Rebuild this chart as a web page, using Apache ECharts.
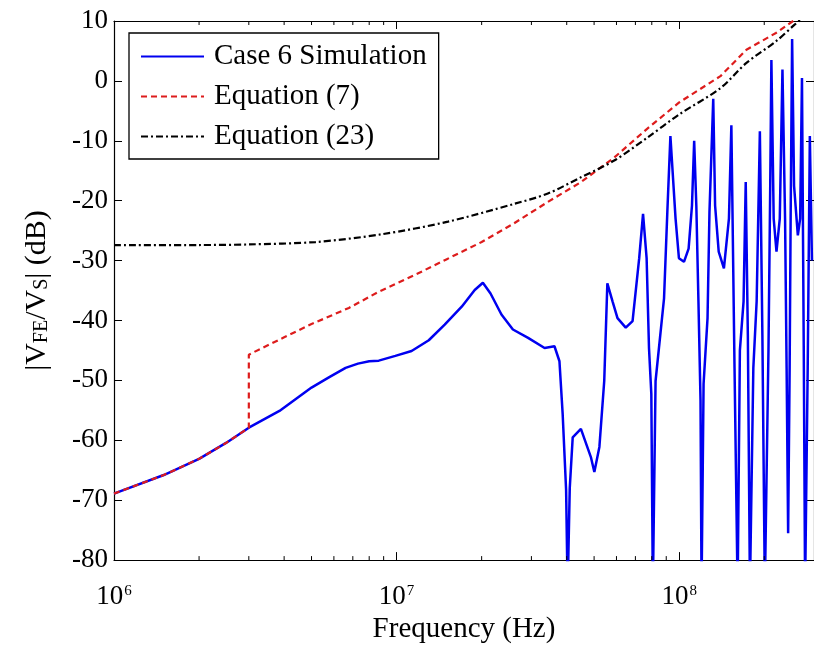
<!DOCTYPE html>
<html>
<head>
<meta charset="utf-8">
<script src="https://cdn.jsdelivr.net/npm/echarts@6/dist/echarts.min.js"></script>
<style>
html,body{margin:0;padding:0;background:#fff;}
#chart{width:814px;height:649px;}
</style>
</head>
<body>
<div id="chart"></div>
<script>
// Case 6 Simulation
var simFreq = [1e6,1.5e6,2e6,2.5e6,3e6,3.85e6,5e6,5.8e6,6.6e6,7.3e6,8e6,8.65e6,9.9e6,1.13e7,1.3e7,1.48e7,1.7e7,1.89e7,2.02e7,2.15e7,2.35e7,2.58e7,2.92e7,3.34e7,3.62e7,3.77e7,3.87e7,3.98e7,4.03e7,4.1e7,4.2e7,4.49e7,4.87e7,5.01e7,5.22e7,5.43e7,5.57e7,5.81e7,6.05e7,6.47e7,6.84e7,7.22e7,7.45e7,7.67e7,7.82e7,7.97e7,8.07e7,8.25e7,8.84e7,9.08e7,9.31e7,9.71e7,9.98e7,1.04e8,1.08e8,1.11e8,1.13e8,1.15e8,1.17e8,1.19e8,1.2e8,1.22e8,1.26e8,1.28e8,1.32e8,1.34e8,1.38e8,1.44e8,1.5e8,1.53e8,1.57e8,1.61e8,1.64e8,1.69e8,1.72e8,1.75e8,1.78e8,1.83e8,1.88e8,1.93e8,1.97e8,2.01e8,2.07e8,2.1e8,2.12e8,2.16e8,2.21e8,2.27e8,2.32e8,2.37e8,2.4e8,2.43e8,2.46e8,2.48e8,2.51e8,2.55e8,2.63e8,2.68e8,2.72e8,2.76e8,2.79e8,2.85e8,2.9e8,2.95e8];
var simDb = [-68.9,-65.8,-63.1,-60.4,-57.9,-55.1,-51.2,-49.4,-47.9,-47.2,-46.8,-46.7,-45.9,-45.1,-43.3,-40.7,-37.7,-34.9,-33.7,-35.5,-39.0,-41.5,-42.9,-44.6,-44.3,-46.8,-55.6,-68.3,-85,-68,-59.5,-58.1,-62.8,-65.3,-61.1,-50.1,-33.8,-36.8,-39.6,-41.2,-40.1,-29.6,-22.2,-29.6,-44.6,-52.3,-85,-50.1,-36.3,-21.9,-9.2,-23,-29.6,-30.2,-28.0,-20.8,-10.0,-20.8,-36.8,-53.4,-85,-50.6,-39.6,-21.9,-3.0,-20.8,-28.5,-31.3,-23,-7.4,-47.9,-85,-45,-36.8,-16.9,-42.4,-85,-47.9,-36.8,-8.4,-42.4,-85,-45.1,-17.5,3.5,-23,-28.5,-23,1.9,-23,-47.9,-75.5,-47.9,-23,7.0,-17.5,-25.8,-23,0.5,-45,-85,-47.9,-9.2,-30];

// Equation (7)
var eq7Freq = [1e6,1.5e6,2e6,2.5e6,3e6,3e6,4e6,5e6,6.78e6,8.65e6,1.16e7,1.5e7,2e7,2.6e7,3.43e7,4.49e7,5.89e7,7.7e7,1e8,1.4e8,1.73e8,2.2e8,2.53e8,3e8];
var eq7Db = [-68.9,-65.8,-63.1,-60.4,-57.9,-45.7,-42.8,-40.6,-37.9,-35.2,-32.4,-29.8,-26.9,-23.8,-20.2,-16.9,-12.8,-8.0,-3.6,0.8,5.2,8.0,10.0,12.8];

// Equation (23)
var eq23Freq = [1e6,2e6,3e6,5.17e6,8.87e6,1.52e7,2.62e7,3.43e7,4.49e7,5.89e7,7.7e7,1e8,1.4e8,1.73e8,2.2e8,2.55e8,2.7e8,3e8];
var eq23Db = [-27.4,-27.4,-27.3,-26.9,-25.6,-23.5,-20.5,-18.8,-16.1,-13.3,-9.5,-5.6,-1.2,3.0,6.6,9.3,10.3,12.0];

// axis ticks
var minorTicks = [2e6,3e6,4e6,5e6,6e6,7e6,8e6,9e6,2e7,3e7,4e7,5e7,6e7,7e7,8e7,9e7,2e8];
var seriesNames = ['Case 6 Simulation','Equation (7)','Equation (23)'];
var xAxisTitle = 'Frequency (Hz)';

function zip(a, b){ return a.map(function(v,i){ return [v, b[i]]; }); }

var FONT = 'Liberation Serif';
var chart = echarts.init(document.getElementById('chart'), null, {renderer:'canvas'});

function logLabel(value){
  var e = Math.round(Math.log(value)/Math.LN10);
  if (Math.abs(value - Math.pow(10,e)) / value > 1e-6) return '';
  return '{b|10}{s|' + e + '}';
}

var option = {
  backgroundColor: '#fff',
  animation: false,
  grid: {left:114, top:21, width:703.5, height:543, containLabel:false},
  legend: {
    data: seriesNames,
    orient: 'vertical',
    left: 129, top: 33,
    padding: [9, 12, 8, 11],
    itemWidth: 63, itemHeight: 2, itemGap: 11,
    backgroundColor: '#fff',
    borderColor: '#000', borderWidth: 1.3, borderRadius: 0,
    itemStyle: {opacity: 0},
    textStyle: {fontFamily: FONT, fontSize: 29, color: '#000', padding:[0,0,0,5]},
    selectedMode: false
  },
  xAxis: [{
    type: 'log', logBase: 10, min: 1e6, max: 3e8,
    name: xAxisTitle, nameLocation: 'middle', nameGap: 54,
    nameTextStyle: {fontFamily: FONT, fontSize: 29, color: '#000'},
    axisLine: {show:true, onZero:false, lineStyle:{color:'#000', width:1.2}},
    axisTick: {show:true, inside:true, length:8, lineStyle:{color:'#000'}},
    axisLabel: {
      show:true, margin: 23, formatter: logLabel, showMaxLabel:false,
      rich: {
        b: {fontFamily: FONT, fontSize: 27, color:'#000'},
        s: {fontFamily: FONT, fontSize: 15, color:'#000', verticalAlign:'top', padding:[0,0,0,1]}
      }
    },
    splitLine: {show:false}
  },{
    type: 'log', logBase: 10, min: 1e6, max: 3e8, position: 'top',
    axisLine: {show:true, onZero:false, lineStyle:{color:'#000', width:1.2}},
    axisTick: {show:true, inside:true, length:8, lineStyle:{color:'#000'}},
    axisLabel: {show:false}, splitLine: {show:false}
  }],
  yAxis: [{
    type: 'value', min: -80, max: 10, interval: 10,
    name: '{n||V}{sub|FE}{n|/V}{sub|S}{n|| (dB)}',
    nameLocation: 'middle', nameRotate: 90, nameGap: 62,
    nameTextStyle: {
      rich: {
        n: {fontFamily: FONT, fontSize: 30, color:'#000'},
        sub: {fontFamily: FONT, fontSize: 20, color:'#000', verticalAlign:'bottom'}
      }
    },
    axisLine: {show:true, onZero:false, lineStyle:{color:'#000', width:1.2}},
    axisTick: {show:true, inside:true, length:8, lineStyle:{color:'#000'}},
    axisLabel: {fontFamily: FONT, fontSize: 27, color:'#000', margin: 6},
    splitLine: {show:false}
  },{
    type: 'value', min: -80, max: 10, interval: 10, position: 'right',
    axisLine: {show:true, onZero:false, lineStyle:{color:'#000', width:1.2}},
    axisTick: {show:true, inside:true, length:8, lineStyle:{color:'#000'}},
    axisLabel: {show:false}, splitLine: {show:false}
  }],
  series: [
    {
      name: seriesNames[0], type:'line', data: zip(simFreq, simDb),
      symbol:'none', clip:true, z:2,
      lineStyle: {color:'#0000f0', width:2.5},
      itemStyle: {color:'#0000f0'}
    },
    {
      name: seriesNames[1], type:'line', data: zip(eq7Freq, eq7Db),
      symbol:'none', clip:true, z:3,
      lineStyle: {color:'#dd1c1c', width:2.2, type:[6,4]},
      itemStyle: {color:'#dd1c1c'}
    },
    {
      name: seriesNames[2], type:'line', data: zip(eq23Freq, eq23Db),
      symbol:'none', clip:true, z:4, smooth: 0.3,
      lineStyle: {color:'#000', width:2.2, type:[7,3,2,3]},
      itemStyle: {color:'#000'}
    },
    {
      name: 'minorTicks', type:'custom', silent:true, z:5, clip:false,
      data: minorTicks.map(function(v){ return [v, -80]; }),
      encode: {x:0, y:1},
      renderItem: function(params, api){
        var v = api.value(0);
        var pb = api.coord([v, -80]);
        var pt = api.coord([v, 10]);
        return {type:'group', children:[
          {type:'line', shape:{x1:pb[0], y1:pb[1], x2:pb[0], y2:pb[1]-4}, style:{stroke:'#000', lineWidth:1}},
          {type:'line', shape:{x1:pt[0], y1:pt[1], x2:pt[0], y2:pt[1]+4}, style:{stroke:'#000', lineWidth:1}}
        ]};
      }
    }
  ]
};
chart.setOption(option);
</script>
</body>
</html>
